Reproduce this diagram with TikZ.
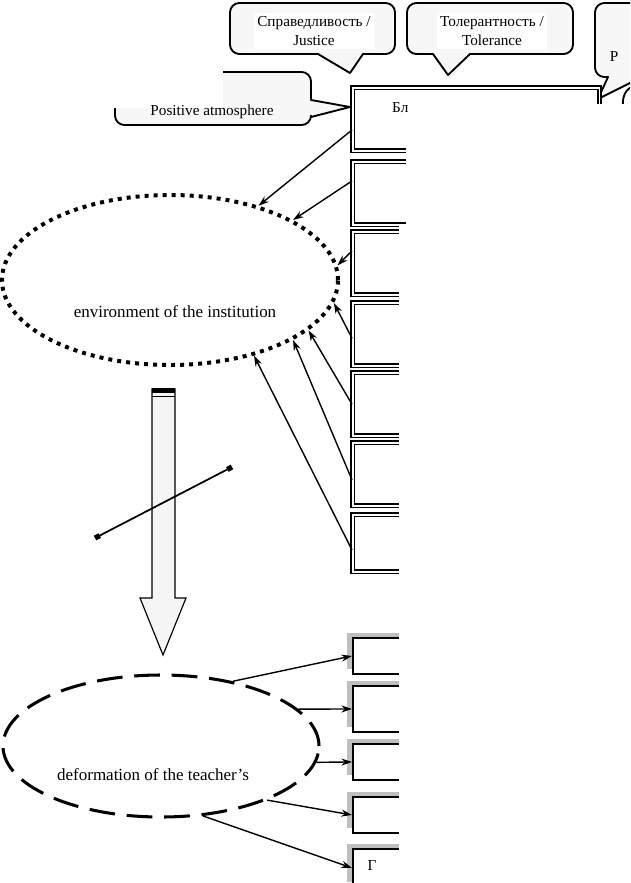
\documentclass[tikz,border=0pt]{standalone}
\usepackage{fontspec}
\setmainfont{Liberation Serif}
\usetikzlibrary{shapes.geometric,arrows.meta,shadows}

\begin{document}
\begin{tikzpicture}[x=0.03cm, y=-0.03cm, >={Stealth[length=9pt,width=6pt]},
    font=\fontsize{13}{15.5}\selectfont,
    balao/.style={line width=1.6pt, fill=gray!6, line join=round},
    texto/.style={align=center, fill=white, inner sep=3pt},
    grande/.style={font=\fontsize{14.5}{17}\selectfont},
    caixa/.style={draw, double, line width=1.3pt, double distance=1.6pt, fill=white,
      anchor=north west, minimum width=7.4cm, minimum height=1.89cm, inner sep=0pt},
    caixab/.style={draw, line width=1.6pt, fill=white, anchor=north west,
      minimum width=7.4cm, inner sep=0pt,
      drop shadow={shadow xshift=-0.18cm, shadow yshift=0.15cm, fill=gray!50, opacity=1}},
    seta/.style={->, line width=1.2pt},
    mascara/.style={fill=white}]

    \useasboundingbox (0,0) rectangle (630,883);
    \clip (0,0) rectangle (630,883);

    % Baloes de cima
    \draw[balao] (318,54) [rounded corners=8pt] -- (230,54) -- (230,3) -- (395,3) -- (395,54)
      [sharp corners] -- (363,54) -- (350,73) -- cycle;
    \draw[balao] (433,54) [rounded corners=8pt] -- (407,54) -- (407,3) -- (573,3) -- (573,54)
      [sharp corners] -- (470,54) -- (448,75) -- cycle;
    \draw[balao] (608,77) [rounded corners=8pt] -- (595,77) -- (595,3) -- (690,3) -- (690,77)
      [sharp corners] -- (642,77) -- (598,99) -- cycle;
    \draw[line width=1.6pt] (634,86) .. controls (625,89) and (622,97) .. (623,108);
    \draw[balao] (311,100) [rounded corners=8pt] -- (311,72) -- (115,72) -- (115,125) -- (311,125)
      [sharp corners] -- (311,117) -- (350,107) -- cycle;

    % Caixas da direita (duplas)
    \node[caixa] (b1) at (352,87) {};
    \node[caixa] (b2) at (352,161) {};
    \node[caixa] (b3) at (352,231) {};
    \node[caixa] (b4) at (352,302) {};
    \node[caixa] (b5) at (352,372) {};
    \node[caixa] (b6) at (352,442) {};
    \node[caixa, minimum height=1.71cm] (b7) at (352,514) {};

    % Caixas de baixo (com sombra)
    \node[caixab, minimum height=1.08cm] (c1) at (352,637) {};
    \node[caixab, minimum height=1.38cm] (c2) at (352,685) {};
    \node[caixab, minimum height=1.08cm] (c3) at (352,743) {};
    \node[caixab, minimum height=1.08cm] (c4) at (352,796) {};
    \node[caixab, minimum height=1.14cm] (c5) at (352,848) {};

    % Elipses
    \node[draw, ellipse, line width=3.4pt, dash pattern=on 3.4pt off 4.3pt,
      minimum width=10.08cm, minimum height=5.1cm, inner sep=0pt] (ambiente) at (170,280) {};
    \node[draw, ellipse, line width=2.6pt, dash pattern=on 22pt off 10pt,
      minimum width=9.48cm, minimum height=4.26cm, inner sep=0pt] (deform) at (161,746) {};

    % Setas para a elipse pontilhada
    \draw[seta] ([yshift=-0.32cm]b1.west) -- (ambiente.40);
    \draw[seta] ([yshift=0.37cm]b2.west) -- (ambiente.26);
    \draw[seta] ([yshift=0.37cm]b3.west) -- (ambiente.5);
    \draw[seta] ([yshift=-0.12cm]b4.west) -- (ambiente.-8);
    \draw[seta] (b5.west) -- (ambiente.-20);
    \draw[seta] ([yshift=-0.17cm]b6.west) -- (ambiente.-26);
    \draw[seta] ([yshift=-0.2cm]b7.west) -- (ambiente.-42);

    % Setas da elipse tracejada
    \draw[seta] (deform.42) -- (c1.west);
    \draw[seta] (deform.15) -- (c2.west);
    \draw[seta] (deform.-6) -- (c3.west);
    \draw[seta] (deform.-27) -- (c4.west);
    \draw[seta] (deform.-59) -- (c5.west);

    % Seta larga e segmento
    \draw[line width=1pt, fill=gray!8] (152,389) -- (152,598) -- (140,598) -- (163,655)
      -- (186,598) -- (175,598) -- (175,389) -- cycle;
    \fill (152,388) rectangle (175,393);
    \draw (152,396) -- (175,396);
    \coordinate (s1) at (95,538);
    \coordinate (s2) at (232,467);
    \draw[line width=1.5pt, {Square[length=4.5pt,width=4.5pt]}-{Square[length=4.5pt,width=4.5pt]}] (s1) -- (s2);

    % Areas brancas
    \fill[mascara] (406,104) rectangle (640,225);
    \fill[mascara] (399,225) rectangle (640,890);
    \fill[mascara] (100,65) rectangle (223,108);

    % Textos
    \node[texto] (t1) at (314,31) {Справедливость /\\Justice};
    \node[texto] (t2) at (492,31) {Толерантность /\\Tolerance};
    \node (t3) at (614,57) {Р};
    \node (t4) at (212,112) {Positive atmosphere};
    \node[grande] (t5) at (175,312) {environment of the institution};
    \node[grande] (t6) at (153,775) {deformation of the teacher's};
    \node[anchor=west, inner sep=0pt] (t7) at (392,108) {Бл};
    \node (t8) at (372,866) {Г};
  \end{tikzpicture}
\end{document}
